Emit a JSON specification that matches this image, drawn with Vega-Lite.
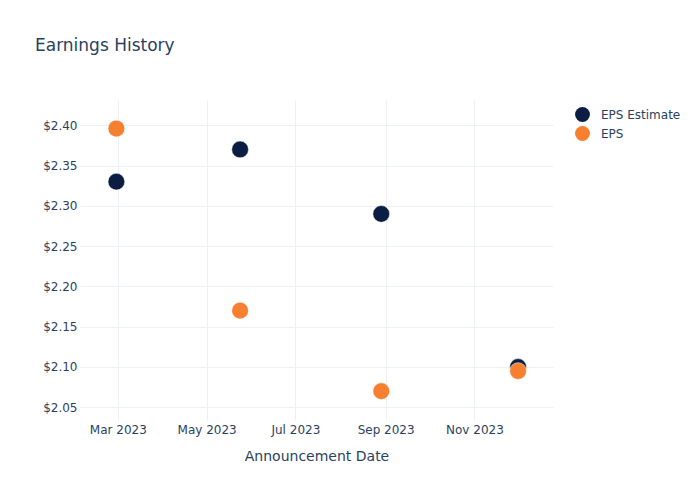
{
  "$schema": "https://vega.github.io/schema/vega-lite/v6.json",
  "autosize": "none",
  "width": 473,
  "height": 320,
  "padding": {"left": 80, "top": 100, "right": 147, "bottom": 80},
  "background": "white",
  "title": {
    "text": "Earnings History",
    "anchor": "start",
    "frame": "group",
    "orient": "top",
    "baseline": "middle",
    "offset": 0,
    "dx": -45,
    "dy": -37,
    "font": "DejaVu Sans",
    "fontSize": 17,
    "fontWeight": "normal",
    "color": "#2a3f5f"
  },
  "data": {
    "values": [
      {"date": "2023-02-28", "series": "EPS Estimate", "value": 2.33},
      {"date": "2023-05-24", "series": "EPS Estimate", "value": 2.37},
      {"date": "2023-08-29", "series": "EPS Estimate", "value": 2.29},
      {"date": "2023-12-01", "series": "EPS Estimate", "value": 2.10},
      {"date": "2023-02-28", "series": "EPS", "value": 2.396},
      {"date": "2023-05-24", "series": "EPS", "value": 2.17},
      {"date": "2023-08-29", "series": "EPS", "value": 2.07},
      {"date": "2023-12-01", "series": "EPS", "value": 2.095}
    ]
  },
  "mark": {"type": "point", "shape": "circle", "filled": true, "opacity": 1, "size": 280, "stroke": "white", "strokeWidth": 0.5},
  "encoding": {
    "x": {
      "field": "date",
      "type": "temporal",
      "title": "Announcement Date",
      "scale": {"domain": ["2023-02-03", "2023-12-25"], "nice": false},
      "axis": {
        "values": ["2023-03-01", "2023-05-01", "2023-07-01", "2023-09-01", "2023-11-01"],
        "format": "%b %Y",
        "domain": false,
        "ticks": false,
        "labelPadding": 4,
        "labelFontSize": 12,
        "labelFont": "DejaVu Sans",
        "labelColor": "#2a3f5f",
        "titleFont": "DejaVu Sans",
        "titleFontSize": 14,
        "titleFontWeight": "normal",
        "titleColor": "#2a3f5f",
        "titlePadding": 14,
        "gridColor": "#EDF0F5",
        "gridWidth": 1
      }
    },
    "y": {
      "field": "value",
      "type": "quantitative",
      "title": null,
      "scale": {"domain": [2.0342, 2.4314], "nice": false, "zero": false},
      "axis": {
        "values": [2.05, 2.1, 2.15, 2.2, 2.25, 2.3, 2.35, 2.4],
        "format": "$.2f",
        "domain": false,
        "ticks": false,
        "labelPadding": 3,
        "labelFontSize": 12,
        "labelFont": "DejaVu Sans",
        "labelColor": "#2a3f5f",
        "gridColor": "#EDF0F5",
        "gridWidth": 1
      }
    },
    "color": {
      "field": "series",
      "type": "nominal",
      "scale": {"domain": ["EPS Estimate", "EPS"], "range": ["#0b1d42", "#f67f30"]},
      "legend": {
        "title": null,
        "orient": "none",
        "legendX": 495,
        "legendY": 7,
        "padding": 0,
        "symbolType": "circle",
        "symbolSize": 220,
        "symbolOpacity": 1,
        "symbolStrokeWidth": 0,
        "labelFont": "DejaVu Sans",
        "labelFontSize": 12,
        "labelColor": "#2a3f5f",
        "labelOffset": 11,
        "rowPadding": 4
      }
    }
  },
  "config": {"view": {"stroke": null}}
}
